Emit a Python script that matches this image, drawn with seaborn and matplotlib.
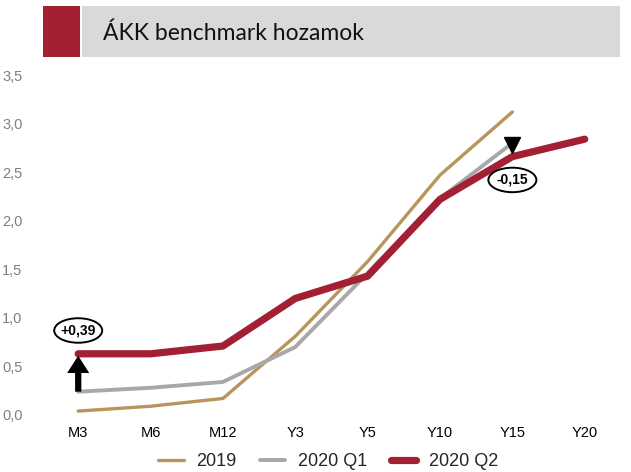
import matplotlib
matplotlib.use("Agg")
import matplotlib.pyplot as plt
import matplotlib.transforms as mtrans
import seaborn as sns
import pandas as pd
import numpy as np
from matplotlib.patches import Rectangle, Ellipse

categories = ["M3", "M6", "M12", "Y3", "Y5", "Y10", "Y15", "Y20"]
y2019 = [0.04, 0.09, 0.17, 0.81, 1.58, 2.47, 3.12, np.nan]
y2020q1 = [0.24, 0.28, 0.34, 0.70, 1.46, 2.23, 2.80, np.nan]
y2020q2 = [0.63, 0.63, 0.71, 1.20, 1.43, 2.22, 2.66, 2.84]
series_names = ["2019", "2020 Q1", "2020 Q2"]
yticks = [0.0, 0.5, 1.0, 1.5, 2.0, 2.5, 3.0, 3.5]
title = "ÁKK benchmark hozamok"
ann_m3 = "+0,39"
ann_y15 = "-0,15"

sns.set_theme(style="white")
narrow = ["Liberation Sans Narrow", "Liberation Sans", "DejaVu Sans"]
plt.rcParams["font.family"] = narrow

rows = []
for name, vals in zip(series_names, [y2019, y2020q1, y2020q2]):
    for c, v in zip(categories, vals):
        rows.append({"tenor": c, "yield": v, "series": name})
df = pd.DataFrame(rows)

colors = {"2019": "#B9955B", "2020 Q1": "#A8A8A8", "2020 Q2": "#A31F34"}
widths = {"2019": 2.4, "2020 Q1": 2.8, "2020 Q2": 5.2}

fig = plt.figure(figsize=(6.31, 4.72), dpi=100)
ax = fig.add_axes([0.0666, 0.1208, 0.9174, 0.7202])

for name in series_names:
    sub = df[df["series"] == name]
    sns.lineplot(data=sub, x="tenor", y="yield", ax=ax, color=colors[name],
                 linewidth=widths[name], sort=False, label=name,
                 solid_capstyle="round", solid_joinstyle="miter")

ax.set_xlim(-0.5, len(categories) - 0.5)
ax.set_ylim(0, 3.5)
ax.set_yticks(yticks)
ax.set_yticklabels([f"{t:.1f}".replace(".", ",") for t in yticks], color="#7F7F7F", fontsize=10.5)
ax.set_xticks(range(len(categories)))
ax.set_xticklabels(categories, color="black", fontsize=10.5)
ax.tick_params(axis="y", pad=14, length=0)
ax.tick_params(axis="x", pad=8, length=0)
ax.set_xlabel("")
ax.set_ylabel("")
for s in ax.spines.values():
    s.set_visible(False)
ax.grid(False)

# arrow at M3
ax.annotate("", xy=(0, y2020q2[0] - 0.02), xytext=(0, y2020q1[0]),
            arrowprops=dict(arrowstyle="-|>,head_width=0.32,head_length=0.5",
                            color="black", lw=4.5, shrinkA=0, shrinkB=0,
                            capstyle="butt", joinstyle="miter"))
# triangle at Y15
ax.plot([6], [y2020q1[6] - 0.02], marker="v", markersize=12, color="black", linestyle="none")


def ellipse_label(x, y, text):
    tr = fig.dpi_scale_trans + mtrans.ScaledTranslation(x, y, ax.transData)
    e = Ellipse((0, 0), 0.48, 0.245, transform=tr, facecolor="white",
                edgecolor="black", lw=1.4, zorder=5)
    ax.add_patch(e)
    ax.text(x, y, text, ha="center", va="center", fontsize=10, fontweight="bold",
            color="black", zorder=6)


ellipse_label(0, 0.87, ann_m3)
ellipse_label(6, 2.42, ann_y15)

# title band
fig.patches.append(Rectangle((43 / 631, 1 - 57 / 472), 37 / 631, 51 / 472,
                             transform=fig.transFigure, facecolor="#A31F34", edgecolor="none"))
fig.patches.append(Rectangle((82 / 631, 1 - 57 / 472), 538 / 631, 51 / 472,
                             transform=fig.transFigure, facecolor="#D9D9D9", edgecolor="none"))
fig.text(103 / 631, 1 - 33 / 472, title, ha="left", va="center", fontsize=16.5,
         color="#111111", family=["Lato", "DejaVu Sans"])

handles, labels = ax.get_legend_handles_labels()
leg = fig.legend(handles, labels, loc="center", bbox_to_anchor=(0.52, 1 - 462 / 472),
                 ncol=3, frameon=False, fontsize=13, handlelength=1.4,
                 columnspacing=1.3, handletextpad=0.7)
if ax.get_legend():
    ax.get_legend().remove()

fig.savefig("out.png", dpi=100)
